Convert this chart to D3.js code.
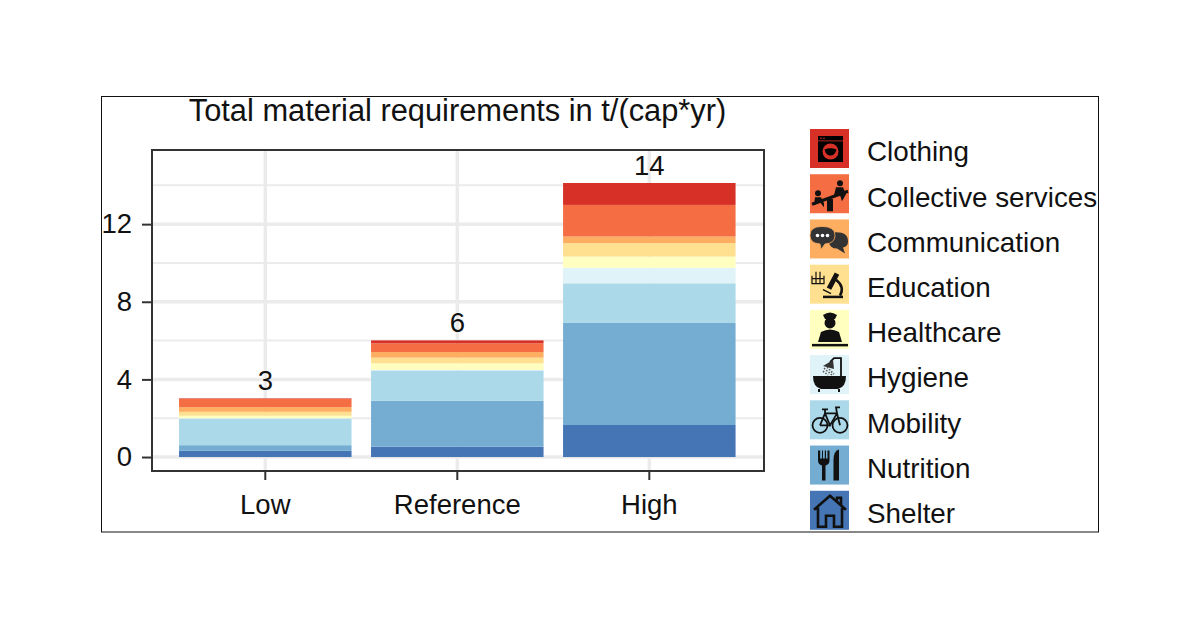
<!DOCTYPE html>
<html>
<head>
<meta charset="utf-8">
<title>Total material requirements</title>
<script src="https://d3js.org/d3.v7.min.js"></script>
<style>
  html, body { margin: 0; padding: 0; background: #fff; }
  text { font-family: "Liberation Sans", Arial, sans-serif; fill: #111; }
</style>
</head>
<body>
<script>
// values, t/(cap*yr)
const scenarios = ["Low", "Reference", "High"];
const sectors = ["Clothing", "Collective services", "Communication", "Education", "Healthcare", "Hygiene", "Mobility", "Nutrition", "Shelter"];
const totals = [3, 6, 14];
const yTicks = [0, 4, 8, 12];
const yMinorTicks = [2, 6, 10, 14];

const clothing   = [0.03, 0.15, 1.13];
const collective = [0.42, 0.45, 1.63];
const communication = [0.24, 0.29, 0.34];
const education  = [0.20, 0.29, 0.69];
const healthcare = [0.13, 0.34, 0.58];
const hygiene    = [0.02, 0.03, 0.80];
const mobility   = [1.37, 1.56, 2.04];
const nutrition  = [0.29, 2.37, 5.26];
const shelter    = [0.32, 0.53, 1.65];

const sectorValues = [clothing, collective, communication, education, healthcare, hygiene, mobility, nutrition, shelter];
const palette = ["#d73027", "#f46d43", "#fdae61", "#fee090", "#ffffbf", "#e0f3f8", "#abd9e9", "#74add1", "#4575b4"];

const svg = d3.select("body").append("svg")
    .attr("width", 1200).attr("height", 628)
    .style("display", "block");

svg.append("rect")
    .attr("x", 101.5).attr("y", 96.5).attr("width", 997).attr("height", 435.5)
    .attr("fill", "#fff").attr("stroke", "#111").attr("stroke-width", 1);

const panel = {left: 152, right: 764, top: 150, bottom: 471};

const x = d3.scaleBand().domain(scenarios)
    .range([151, 763.6])
    .paddingInner(0.1016).paddingOuter(0.146);
const y = d3.scaleLinear().domain([-0.72, 15.82]).range([panel.bottom, panel.top]);

// grid
const grid = svg.append("g");
grid.selectAll(".minor").data(yMinorTicks).enter().append("line")
    .attr("x1", panel.left).attr("x2", panel.right)
    .attr("y1", d => y(d)).attr("y2", d => y(d))
    .attr("stroke", "#ebebeb").attr("stroke-width", 2);
grid.selectAll(".major").data(yTicks).enter().append("line")
    .attr("x1", panel.left).attr("x2", panel.right)
    .attr("y1", d => y(d)).attr("y2", d => y(d))
    .attr("stroke", "#ebebeb").attr("stroke-width", 3.5);
grid.selectAll(".vert").data(scenarios).enter().append("line")
    .attr("x1", d => x(d) + x.bandwidth() / 2).attr("x2", d => x(d) + x.bandwidth() / 2)
    .attr("y1", panel.top).attr("y2", panel.bottom)
    .attr("stroke", "#ebebeb").attr("stroke-width", 3.5);

// stacked bars, shelter at the bottom
const rows = scenarios.map((s, i) => {
    const row = {scenario: s};
    sectors.forEach((k, j) => { row[k] = sectorValues[j][i]; });
    return row;
});
const stack = d3.stack().keys(sectors.slice().reverse());
const color = d3.scaleOrdinal().domain(sectors).range(palette);

svg.append("g").selectAll("g")
    .data(stack(rows))
    .enter().append("g")
    .attr("fill", d => color(d.key))
    .selectAll("rect")
    .data(d => d)
    .enter().append("rect")
    .attr("x", d => x(d.data.scenario))
    .attr("width", x.bandwidth())
    .attr("y", d => y(d[1]))
    .attr("height", d => y(d[0]) - y(d[1]));

// labels above the bars
svg.append("g").selectAll("text")
    .data(scenarios)
    .enter().append("text")
    .attr("x", d => x(d) + x.bandwidth() / 2)
    .attr("y", (d, i) => y(d3.sum(sectorValues, v => v[i])) - 8)
    .attr("text-anchor", "middle")
    .attr("font-size", 27.5)
    .text((d, i) => totals[i]);

// panel border and axes
svg.append("rect")
    .attr("x", panel.left).attr("y", panel.top)
    .attr("width", panel.right - panel.left).attr("height", panel.bottom - panel.top)
    .attr("fill", "none").attr("stroke", "#333").attr("stroke-width", 2);

const xAxis = svg.append("g")
    .attr("transform", "translate(0," + panel.bottom + ")")
    .call(d3.axisBottom(x).tickSize(9).tickSizeOuter(0).tickPadding(14));
const yAxis = svg.append("g")
    .attr("transform", "translate(" + panel.left + ",0)")
    .call(d3.axisLeft(y).tickValues(yTicks).tickSize(10).tickSizeOuter(0).tickPadding(10));
[xAxis, yAxis].forEach(a => {
    a.select(".domain").remove();
    a.selectAll("line").attr("stroke", "#333").attr("stroke-width", 2);
    a.selectAll("text").attr("font-size", 27.5).attr("fill", "#111")
        .style("font-family", '"Liberation Sans", Arial, sans-serif');
});

svg.append("text")
    .attr("x", 457.5).attr("y", 121)
    .attr("text-anchor", "middle")
    .attr("font-size", 30.8)
    .text("Total material requirements in t/(cap*yr)");

// legend icons, drawn in the 40x40 box of a key
const icons = {
    "Clothing": g => {
        g.append("rect").attr("x", 8).attr("y", 7).attr("width", 25).attr("height", 26).attr("fill", "#000");
        g.append("rect").attr("x", 8).attr("y", 11.5).attr("width", 25).attr("height", 0.8).attr("fill", "#d73027");
        g.append("circle").attr("cx", 20.5).attr("cy", 22.5).attr("r", 8).attr("fill", "#d73027");
        g.append("path").attr("d", "M14.5 20.5 Q20.5 18 26.5 20.5 Q25 26.5 20.5 26.5 Q16 26.5 14.5 20.5Z").attr("fill", "#000");
        g.append("circle").attr("cx", 11).attr("cy", 9.3).attr("r", 0.8).attr("fill", "#d73027");
        g.append("circle").attr("cx", 14).attr("cy", 9.3).attr("r", 0.8).attr("fill", "#d73027");
    },
    "Collective services": g => {
        g.append("path").attr("d", "M2 30 L38 17").attr("stroke", "#111").attr("stroke-width", 3);
        g.append("path").attr("d", "M17 37 V26 L20 24 L23 25 V37Z").attr("fill", "#111");
        g.append("circle").attr("cx", 8).attr("cy", 19).attr("r", 3).attr("fill", "#111");
        g.append("path").attr("d", "M4 31 L5 23 H11 L14 29 V33 L10 28Z").attr("fill", "#111");
        g.append("circle").attr("cx", 30).attr("cy", 9).attr("r", 3).attr("fill", "#111");
        g.append("path").attr("d", "M26 13 H33 L36 20 L32 27 L30 21 L24 21Z").attr("fill", "#111");
    },
    "Communication": g => {
        g.append("path").attr("d", "M24 13 Q38 12 38 22 Q38 27 33 28 L35 34 L27 29 Q20 29 19 23Z").attr("fill", "#333");
        g.append("path").attr("d", "M12 7 Q25 7 25 16 Q25 24 15 24.5 L11 30 L10 24.5 Q0 24 0 16 Q0 7 12 7Z").attr("fill", "#333").attr("stroke", "#fdae61").attr("stroke-width", 0.8);
        [7.5, 12.5, 17.5].forEach(cx => g.append("circle").attr("cx", cx).attr("cy", 16).attr("r", 1.8).attr("fill", "#fff"));
    },
    "Education": g => {
        g.append("path").attr("d", "M2 11 V19 H14 V11 M6 7 V19 M10 7 V19 M2 14 H14").attr("fill", "none").attr("stroke", "#111").attr("stroke-width", 1.2);
        g.append("path").attr("d", "M19 24 L27 9").attr("stroke", "#111").attr("stroke-width", 5);
        g.append("path").attr("d", "M26 15 Q35 22 30 31").attr("fill", "none").attr("stroke", "#111").attr("stroke-width", 2.5);
        g.append("path").attr("d", "M13 25 L21 29").attr("stroke", "#111").attr("stroke-width", 1.5);
        g.append("rect").attr("x", 13).attr("y", 31).attr("width", 20).attr("height", 2.5).attr("fill", "#111");
    },
    "Healthcare": g => {
        g.append("path").attr("d", "M13 5 Q20 0 27 5 L25 9 H15Z").attr("fill", "#111");
        g.append("circle").attr("cx", 20).attr("cy", 13).attr("r", 5.5).attr("fill", "#111");
        g.append("path").attr("d", "M8 32 L11 22 Q20 17 29 22 L32 32Z").attr("fill", "#111");
        g.append("rect").attr("x", 2).attr("y", 34).attr("width", 36).attr("height", 2.5).attr("fill", "#111");
    },
    "Hygiene": g => {
        g.append("path").attr("d", "M3 21 H36 Q36 32 28 34 H11 Q3 32 3 21Z").attr("fill", "#111");
        g.append("path").attr("d", "M31 21 V3 H24 L20 7").attr("fill", "none").attr("stroke", "#111").attr("stroke-width", 1.8);
        g.append("path").attr("d", "M23 5 L13 11 L24 14Z").attr("fill", "#333");
        g.append("path").attr("d", "M14 13 L22 20 M17 12 L24 19 M13 16 L18 20").attr("stroke", "#555").attr("stroke-width", 1.5).attr("stroke-dasharray", "1.5 1.5");
        g.append("path").attr("d", "M9 34 V37 M29 34 V37").attr("stroke", "#111").attr("stroke-width", 2);
    },
    "Mobility": g => {
        g.append("circle").attr("cx", 10).attr("cy", 25).attr("r", 7.5).attr("fill", "none").attr("stroke", "#111").attr("stroke-width", 1.8);
        g.append("circle").attr("cx", 30).attr("cy", 25).attr("r", 7.5).attr("fill", "none").attr("stroke", "#111").attr("stroke-width", 1.8);
        g.append("path").attr("d", "M10 25 L15 13 H27 L30 25 M15 13 L20 25 L27 13 M10 25 H20 M12 9 H18 M15 9 V13 M27 13 L26 7 H30").attr("fill", "none").attr("stroke", "#111").attr("stroke-width", 1.8);
    },
    "Nutrition": g => {
        g.append("path").attr("d", "M8 5 V15 Q8 19 12 20 V35 H15.5 V20 Q19.5 19 19.5 15 V5 H17.5 V13 H16 V5 H14.8 V13 H13 V5 H12 V13 H10.2 V5Z").attr("fill", "#111");
        g.append("path").attr("d", "M23.5 35 V14 Q24 5 29 4 V35Z").attr("fill", "#111");
    },
    "Shelter": g => {
        g.append("path").attr("d", "M4 19 L20 5 L36 19 M8 17 V36 H16 V25 H24 V36 H32 V17 M27 10 V7 H31 V14").attr("fill", "none").attr("stroke", "#111").attr("stroke-width", 2.6);
    }
};

// legend
const legendY = d3.scaleBand().domain(sectors).range([129, 536]).paddingInner(0).paddingOuter(0);
const keys = svg.append("g").selectAll("g")
    .data(sectors)
    .enter().append("g")
    .attr("transform", d => "translate(810," + legendY(d) + ")");
keys.append("rect")
    .attr("width", 39).attr("height", 39)
    .attr("fill", d => color(d));
keys.each(function(d) { icons[d](d3.select(this)); });
keys.append("text")
    .attr("x", 57).attr("y", 25)
    .attr("dominant-baseline", "middle")
    .attr("font-size", 27.8)
    .text(d => d);
</script>
</body>
</html>
